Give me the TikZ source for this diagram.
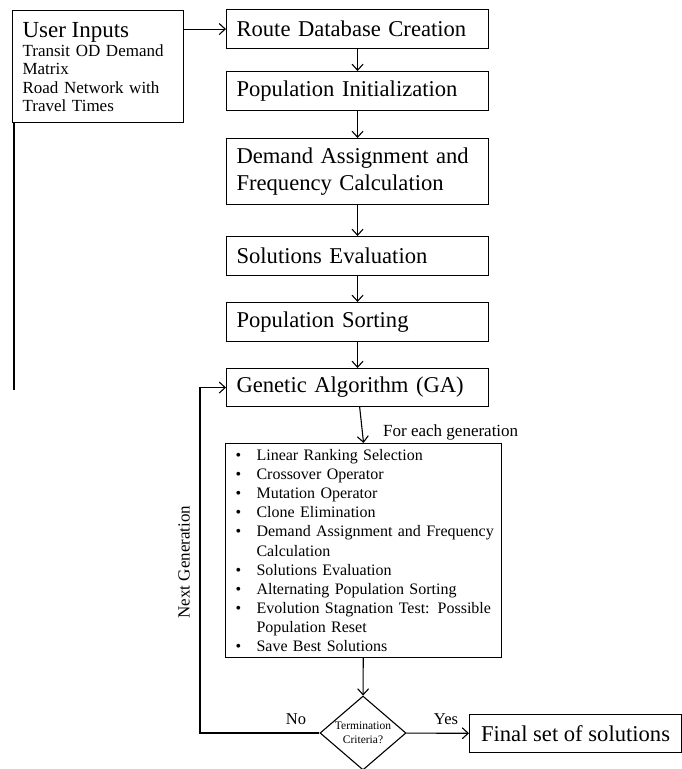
\documentclass[tikz,border=0pt]{standalone}
\usepackage{fontspec}
\setmainfont{Liberation Serif}
\usetikzlibrary{shapes.geometric, arrows.meta, positioning}
\tikzset{
    stepbox/.style={draw, line width=1.1pt, anchor=north west, align=left, font=\fontsize{22.6}{27}\selectfont, text width=242pt, inner xsep=10pt, inner ysep=0pt, minimum height=39pt},
    endbox/.style={draw, line width=1.1pt, anchor=north west, font=\fontsize{22.6}{27}\selectfont, inner sep=0pt, minimum width=212pt, minimum height=38pt},
    listbox/.style={draw, line width=1.1pt, anchor=north west, align=left, font=\fontsize{16}{19.1}\selectfont, text width=264pt, inner xsep=6pt, inner ysep=0pt, minimum height=214pt},
    decision/.style={diamond, draw, line width=1.1pt, aspect=1.16, align=center, font=\fontsize{11.5}{14.5}\selectfont, inner sep=0pt, minimum width=86pt, minimum height=74pt},
    arr/.style={-{Straight Barb[length=6pt, width=11pt]}, line width=1.1pt},
    lbl/.style={font=\fontsize{17}{20}\selectfont, inner sep=0pt}
}
\newcommand{\gaitem}[1]{\makebox[25pt][l]{\hspace*{4pt}\textbullet}#1}

\begin{document}
\begin{tikzpicture}[x=1pt, y=-1pt]
        \useasboundingbox (0,0) rectangle (681,769);
        % inputs and the set-up steps
        \node[stepbox, font=\fontsize{17}{18}\selectfont, text width=151pt, minimum height=112pt] (inputs) at (12,10) {
          {\fontsize{23}{27}\selectfont User Inputs}\\[2pt]
          Transit OD Demand\\ Matrix\\ Road Network with\\ Travel Times};
        \node[stepbox] (route) at (226,9) {Route Database Creation};
        \node[stepbox] (popinit) at (226,71) {Population Initialization};
        \node[stepbox, minimum height=66pt] (demand) at (226,138) {Demand Assignment and\\ Frequency Calculation};
        \node[stepbox] (soleval) at (226,236) {Solutions Evaluation};
        \node[stepbox] (popsort) at (226,302) {Population Sorting};
        \node[stepbox, minimum height=38pt] (ga) at (226,368) {Genetic Algorithm (GA)};
        % one generation of the GA
        \node[listbox] (genloop) at (225,443) {
          \gaitem{Linear Ranking Selection}\\
          \gaitem{Crossover Operator}\\
          \gaitem{Mutation Operator}\\
          \gaitem{Clone Elimination}\\
          \gaitem{Demand Assignment and Frequency}\\
          \hspace*{25pt}Calculation\\
          \gaitem{Solutions Evaluation}\\
          \gaitem{Alternating Population Sorting}\\
          \gaitem{Evolution Stagnation Test: Possible}\\
          \hspace*{25pt}Population Reset\\
          \gaitem{Save Best Solutions}};
        \node[decision] (stop) at (363,733) {Termination\\ Criteria?};
        \node[endbox] (final) at (469,714) {Final set of solutions};

        % labels
        \node[lbl, anchor=west] (foreach) at (383,432) {For each generation};
        \node[lbl, rotate=90] (nextgen) at (184,562) {Next Generation};
        \node[lbl, font=\fontsize{16.5}{20}\selectfont] (no) at (296,719) {No};
        \node[lbl, font=\fontsize{16.5}{20}\selectfont] (yes) at (446,719) {Yes};

        % connectors
        \coordinate (inputsend) at (14,390);
        \coordinate (loopx) at (200,0);
        \draw[line width=1.1pt] (inputs.south west -| inputsend) -- (inputsend);
        \draw[arr] (inputs.east |- route.west) -- (route.west);
        \foreach \a/\b in {route/popinit, popinit/demand, demand/soleval, soleval/popsort, popsort/ga}
          \draw[arr] (\a) -- (\b);
        \draw[arr] (ga) -- (genloop.north);
        \draw[arr] (genloop) -- (stop);
        \draw[arr] (stop) -- (final);
        \draw[arr] (stop.west) -| (loopx |- ga.west) -- (ga.west);
      \end{tikzpicture}
\end{document}
